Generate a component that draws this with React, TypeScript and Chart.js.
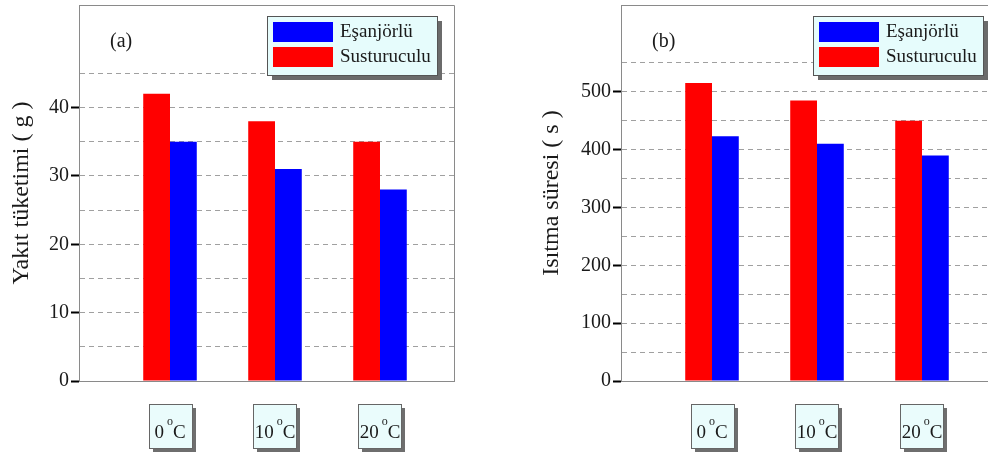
import React, { useEffect, useRef } from 'react';
import { Chart, registerables } from 'chart.js';

Chart.register(...registerables);

// ---- data ----
const categories = ['0', '10', '20'];
const unitSup = 'o';
const unitMain = 'C';
const seriesNames = ['Susturuculu', 'Eşanjörlü'];
const fuelSusturuculu = [42, 38, 35];
const fuelEsanjorlu = [35, 31, 28];
const timeSusturuculu = [515, 485, 450];
const timeEsanjorlu = [423, 410, 390];
const fuelTickLabels = [0, 10, 20, 30, 40];
const timeTickLabels = [0, 100, 200, 300, 400, 500];

const SERIF = '"Liberation Serif", "Times New Roman", serif';
const RED = '#ff0000';
const BLUE = '#0000ff';
const TEXT = '#1a1a1a';
const FRAME = '#8a8a8a';

type PanelProps = {
  left: number;
  letter: string;
  title: string;
  titlePad: number;
  s1: number[];
  s2: number[];
  yMax: number;
  step: number;
  gridMax: number;
  labels: number[];
  legendInset: number;
};

function Panel(p: PanelProps) {
  const ref = useRef<HTMLCanvasElement>(null);
  useEffect(() => {
    const canvas = ref.current!;
    const decor = {
      id: 'decor',
      afterDraw(chart: any) {
        const { ctx, chartArea: a } = chart;
        ctx.save();
        // frame top/right
        ctx.strokeStyle = FRAME;
        ctx.lineWidth = 1;
        ctx.beginPath();
        ctx.moveTo(a.left, a.top + 0.5);
        ctx.lineTo(a.right + 0.5, a.top + 0.5);
        ctx.lineTo(a.right + 0.5, a.bottom);
        ctx.stroke();
        // panel letter
        ctx.fillStyle = TEXT;
        ctx.font = `20px ${SERIF}`;
        ctx.textBaseline = 'middle';
        ctx.textAlign = 'left';
        ctx.fillText(p.letter, a.left + 31, 42);
        // legend
        const lw = 170, lh = 59;
        const lx = a.right - p.legendInset - lw, ly = 16;
        ctx.fillStyle = '#6b6b6b';
        ctx.fillRect(lx + 5, ly + 5, lw, lh);
        ctx.fillStyle = '#e6fcfc';
        ctx.fillRect(lx, ly, lw, lh);
        ctx.strokeStyle = '#555';
        ctx.strokeRect(lx + 0.5, ly + 0.5, lw, lh);
        const rows: [string, string][] = [[seriesNames[1], BLUE], [seriesNames[0], RED]];
        rows.forEach(([name, color], i) => {
          const sy = ly + 6 + i * 25;
          ctx.fillStyle = color;
          ctx.fillRect(lx + 6, sy, 60, 20);
          ctx.fillStyle = TEXT;
          ctx.font = `19px ${SERIF}`;
          ctx.textBaseline = 'middle';
          ctx.fillText(name, lx + 73, sy + 10);
        });
        // x labels in boxes
        const xs = chart.scales.x;
        categories.forEach((c, i) => {
          const cx = xs.getPixelForValue(i + 1);
          const bw = 43, bh = 44;
          const bx = Math.round(cx - bw / 2), by = 404;
          ctx.fillStyle = '#6e6e6e';
          ctx.fillRect(bx + 4, by + 4, bw, bh);
          ctx.fillStyle = '#eafcfc';
          ctx.fillRect(bx, by, bw, bh);
          ctx.strokeStyle = '#666';
          ctx.strokeRect(bx + 0.5, by + 0.5, bw, bh);
          ctx.textBaseline = 'alphabetic';
          ctx.font = `19px ${SERIF}`;
          const w1 = ctx.measureText(c).width;
          const w3 = ctx.measureText(unitMain).width;
          ctx.font = `12px ${SERIF}`;
          const w2 = ctx.measureText(unitSup).width;
          const gap = 3;
          const total = w1 + gap + w2 + w3;
          let x = cx - total / 2;
          ctx.fillStyle = TEXT;
          ctx.font = `19px ${SERIF}`;
          ctx.fillText(c, x, 438);
          x += w1 + gap;
          ctx.font = `12px ${SERIF}`;
          ctx.fillText(unitSup, x, 425);
          x += w2;
          ctx.font = `19px ${SERIF}`;
          ctx.fillText(unitMain, x, 438);
        });
        ctx.restore();
      },
    };

    const chart = new Chart(canvas, {
      type: 'bar',
      data: {
        datasets: [
          {
            label: seriesNames[0],
            data: p.s1.map((v, i) => ({ x: i + 1, y: v })),
            backgroundColor: RED,
            borderWidth: 0,
          },
          {
            label: seriesNames[1],
            data: p.s2.map((v, i) => ({ x: i + 1, y: v })),
            backgroundColor: BLUE,
            borderWidth: 0,
          },
        ],
      } as any,
      options: {
        responsive: false,
        animation: false,
        devicePixelRatio: 1,
        layout: { padding: { top: 5, right: 16, bottom: 0, left: 0 } },
        datasets: { bar: { categoryPercentage: 0.51, barPercentage: 1 } },
        plugins: { legend: { display: false }, tooltip: { enabled: false } },
        scales: {
          x: {
            type: 'linear',
            min: 0.1333,
            max: 3.7048,
            offset: false,
            grid: { display: false, drawTicks: false, offset: false },
            ticks: { display: false },
            border: { display: true, color: FRAME, width: 1 },
            afterBuildTicks: (s: any) => {
              s.ticks = categories.map((_, i) => ({ value: i + 1 }));
            },
            afterFit: (s: any) => {
              s.height = 74;
              s.paddingLeft = 0;
              s.paddingRight = 0;
            },
          },
          y: {
            type: 'linear',
            min: 0,
            max: p.yMax,
            ticks: {
              stepSize: p.step,
              autoSkip: false,
              padding: 2,
              color: TEXT,
              font: { family: SERIF, size: 20 },
              callback: (v: any) => (p.labels.includes(Number(v)) ? String(v) : ''),
            },
            grid: {
              lineWidth: 1,
              color: (c: any) =>
                c.tick && c.tick.value > 0 && c.tick.value <= p.gridMax ? '#a0a0a0' : 'rgba(0,0,0,0)',
              tickColor: (c: any) =>
                c.tick && p.labels.includes(c.tick.value) ? '#000' : 'rgba(0,0,0,0)',
              tickWidth: 2,
              tickLength: 8,
            },
            border: { display: true, color: FRAME, width: 1, dash: [5, 4] },
            title: {
              display: true,
              text: p.title,
              color: TEXT,
              font: { family: SERIF, size: 24, lineHeight: 1 },
              padding: { top: p.titlePad, bottom: 0 },
            },
            afterFit: (s: any) => {
              s.width = 79;
              s.paddingTop = 0;
              s.paddingBottom = 0;
            },
          },
        },
      } as any,
      plugins: [decor],
    });
    return () => chart.destroy();
  }, []);
  return (
    <canvas
      ref={ref}
      width={470}
      height={455}
      style={{ position: 'absolute', left: p.left, top: 0, width: 470, height: 455 }}
    />
  );
}

export default function App() {
  return (
    <div
      style={{
        position: 'fixed',
        left: 0,
        top: 0,
        width: 988,
        height: 455,
        overflow: 'hidden',
        background: '#fff',
      }}
    >
      <Panel
        left={0}
        letter="(a)"
        title="Yakıt tüketimi ( g )"
        titlePad={10}
        s1={fuelSusturuculu}
        s2={fuelEsanjorlu}
        yMax={55}
        step={5}
        gridMax={45}
        labels={fuelTickLabels}
        legendInset={17}
      />
      <Panel
        left={542}
        letter="(b)"
        title="Isıtma süresi ( s )"
        titlePad={-2}
        s1={timeSusturuculu}
        s2={timeEsanjorlu}
        yMax={650}
        step={50}
        gridMax={550}
        labels={timeTickLabels}
        legendInset={13}
      />
    </div>
  );
}
